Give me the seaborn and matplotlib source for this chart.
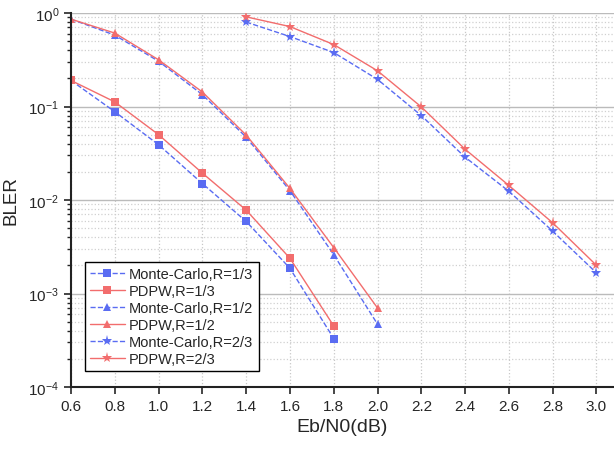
import numpy as np
import pandas as pd
import matplotlib
matplotlib.use('Agg')
import matplotlib.pyplot as plt
import matplotlib.ticker as mticker
import seaborn as sns

sns.set_style("ticks")
plt.rcParams['font.family'] = ['Liberation Sans', 'DejaVu Sans']
plt.rcParams['mathtext.fontset'] = 'custom'
plt.rcParams['mathtext.rm'] = 'Liberation Sans'

# data
ebn0_r13 = [0.6, 0.8, 1.0, 1.2, 1.4, 1.6, 1.8]
mc_r13 = [0.19, 0.088, 0.039, 0.015, 0.0059, 0.00186, 0.00033]
pdpw_r13 = [0.19, 0.112, 0.050, 0.0194, 0.0078, 0.00238, 0.00045]

ebn0_r12 = [0.6, 0.8, 1.0, 1.2, 1.4, 1.6, 1.8, 2.0]
mc_r12 = [0.86, 0.58, 0.305, 0.134, 0.047, 0.0126, 0.0026, 0.00047]
pdpw_r12 = [0.86, 0.61, 0.316, 0.143, 0.0495, 0.0133, 0.0031, 0.0007]

ebn0_r23 = [1.4, 1.6, 1.8, 2.0, 2.2, 2.4, 2.6, 2.8, 3.0]
mc_r23 = [0.80, 0.56, 0.378, 0.195, 0.080, 0.0287, 0.0124, 0.00464, 0.00166]
pdpw_r23 = [0.91, 0.716, 0.46, 0.241, 0.099, 0.0349, 0.0143, 0.0057, 0.0020]

blue = '#5A6CF2'
red = '#F26D6D'

series = [
    ('Monte-Carlo,R=1/3', ebn0_r13, mc_r13, blue, 's', (4, 3)),
    ('PDPW,R=1/3', ebn0_r13, pdpw_r13, red, 's', None),
    ('Monte-Carlo,R=1/2', ebn0_r12, mc_r12, blue, '^', (4, 3)),
    ('PDPW,R=1/2', ebn0_r12, pdpw_r12, red, '^', None),
    ('Monte-Carlo,R=2/3', ebn0_r23, mc_r23, blue, '*', (4, 3)),
    ('PDPW,R=2/3', ebn0_r23, pdpw_r23, red, '*', None),
]

fig = plt.figure(figsize=(6.14, 4.52), dpi=100)
ax = fig.add_axes([0.1156, 0.1416, 0.8844, 0.8274])

for name, x, y, col, mk, dash in series:
    df = pd.DataFrame({'x': x, 'y': y})
    ms = 8 if mk == '*' else 5.5
    kw = dict(dashes=dash) if dash else {}
    sns.lineplot(data=df, x='x', y='y', ax=ax, color=col, marker=mk,
                 markersize=ms, markeredgewidth=0, linewidth=1.0,
                 label=name, linestyle='--' if dash else '-', **kw)

ax.set_yscale('log')
ax.set_ylim(1e-4, 1)
ax.set_xlim(0.6, 3.08)
ax.set_xticks(np.arange(0.6, 3.01, 0.2))
ax.xaxis.set_major_formatter(mticker.FormatStrFormatter('%.1f'))
ax.yaxis.set_major_locator(mticker.LogLocator(base=10, numticks=10))
ax.yaxis.set_minor_locator(mticker.LogLocator(base=10, subs=np.arange(2, 10), numticks=20))
ax.yaxis.set_minor_formatter(mticker.NullFormatter())

ax.grid(True, which='major', axis='y', color='#BBBBBB', linestyle='-', linewidth=1.0)
ax.grid(True, which='minor', axis='y', color='#D0D0D0', linestyle=':', linewidth=0.9)
ax.grid(True, which='major', axis='x', color='#C8C8C8', linestyle=':', linewidth=0.9)
ax.set_axisbelow(True)

for s in ['top', 'right']:
    ax.spines[s].set_visible(False)
for s in ['left', 'bottom']:
    ax.spines[s].set_linewidth(1.5)
    ax.spines[s].set_color('#222222')

ax.tick_params(axis='both', which='major', direction='out', length=5, width=1.2, labelsize=11)
ax.tick_params(axis='y', which='minor', direction='out', length=3, width=1.0)

ax.set_xlabel('Eb/N0(dB)', fontsize=14)
ax.set_ylabel('BLER', fontsize=13.5, labelpad=6)

ax.legend(loc='lower left', bbox_to_anchor=(0.02, 0.035), fontsize=10.5,
          frameon=True, fancybox=False, edgecolor='black', framealpha=1,
          handlelength=2.4, labelspacing=0.2, borderpad=0.35, handletextpad=0.3,
          borderaxespad=0.2)

fig.savefig('out.png', dpi=100)
